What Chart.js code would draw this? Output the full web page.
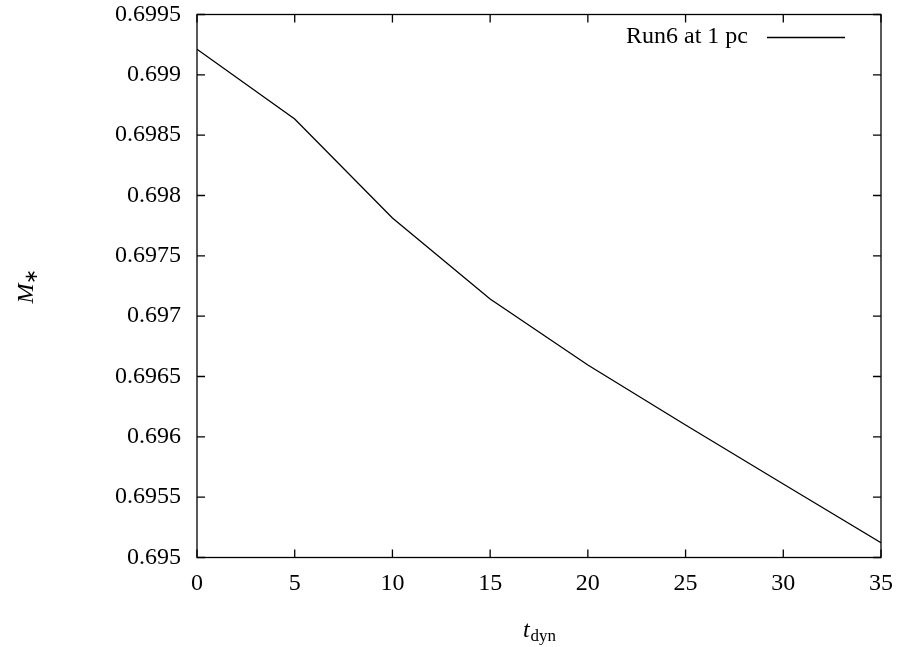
<!DOCTYPE html>
<html>
<head>
<meta charset="utf-8">
<script src="https://cdn.jsdelivr.net/npm/chart.js@4.4.0/dist/chart.umd.min.js"></script>
<style>
html, body { margin: 0; padding: 0; background: #fff; }
#wrap { width: 902px; height: 647px; }
</style>
</head>
<body>
<div id="wrap"><canvas id="graphMass"></canvas></div>
<script>
var tDyn = [0, 5, 10, 15, 20, 25, 30, 35];
var massStar = [0.699212, 0.698634, 0.697814, 0.697142, 0.696595, 0.696098, 0.695609, 0.695123];
var seriesLabel = 'Run6 at 1 pc';
var xTicks = [0, 5, 10, 15, 20, 25, 30, 35];
var yTicks = [0.695, 0.6955, 0.696, 0.6965, 0.697, 0.6975, 0.698, 0.6985, 0.699, 0.6995];

var fontFam = '"Liberation Serif", "Times New Roman", serif';

// frame, inward ticks (mirrored), legend and axis titles like gnuplot
var framePlugin = {
    id: 'frame',
    afterDraw: function(chart){
        let ctx = chart.ctx;
        let a = chart.chartArea;
        let xs = chart.scales.x;
        let ys = chart.scales.y;
        ctx.save();
        ctx.strokeStyle = '#000';
        ctx.lineWidth = 1.3;
        ctx.strokeRect(a.left, a.top, a.right - a.left, a.bottom - a.top);
        ctx.beginPath();
        xTicks.forEach(function(v){
            let px = xs.getPixelForValue(v);
            ctx.moveTo(px, a.bottom); ctx.lineTo(px, a.bottom - 8);
            ctx.moveTo(px, a.top); ctx.lineTo(px, a.top + 8);
        });
        yTicks.forEach(function(v){
            let py = ys.getPixelForValue(v);
            ctx.moveTo(a.left, py); ctx.lineTo(a.left + 8, py);
            ctx.moveTo(a.right, py); ctx.lineTo(a.right - 8, py);
        });
        ctx.stroke();

        // legend: text then line sample
        let ds = chart.data.datasets[0];
        ctx.fillStyle = '#000';
        ctx.font = '24px ' + fontFam;
        ctx.textAlign = 'right';
        ctx.textBaseline = 'middle';
        ctx.fillText(ds.label, 748, 37);
        ctx.beginPath();
        ctx.lineWidth = ds.borderWidth;
        ctx.moveTo(767, 37.5); ctx.lineTo(845, 37.5);
        ctx.stroke();

        // x title: t_dyn
        ctx.textAlign = 'left';
        ctx.textBaseline = 'alphabetic';
        let cx = (a.left + a.right) / 2;
        ctx.font = 'italic 24px ' + fontFam;
        let w1 = ctx.measureText('t').width;
        ctx.font = '17px ' + fontFam;
        let w2 = ctx.measureText('dyn').width;
        let x0 = cx - (w1 + w2) / 2;
        ctx.font = 'italic 24px ' + fontFam;
        ctx.fillText('t', x0, 637);
        ctx.font = '17px ' + fontFam;
        ctx.fillText('dyn', x0 + w1 + 1, 641);

        // y title: M_*
        let cy = (a.top + a.bottom) / 2;
        ctx.translate(33, cy);
        ctx.rotate(-Math.PI / 2);
        ctx.font = 'italic 24px ' + fontFam;
        let m1 = ctx.measureText('M').width;
        ctx.font = '18px ' + fontFam;
        let m2 = ctx.measureText('\u2217').width;
        let y0 = -(m1 + m2) / 2;
        ctx.font = 'italic 24px ' + fontFam;
        ctx.fillText('M', y0, 0);
        ctx.font = '18px ' + fontFam;
        ctx.fillText('\u2217', y0 + m1, 4);
        ctx.restore();
    }
};

var graphMass = new Chart('graphMass', {
    type: 'line',
    data: {
        datasets: [{
            label: seriesLabel,
            data: tDyn.map(function(t, i){ return { x: t, y: massStar[i] }; }),
            borderColor: '#000',
            borderWidth: 1.3,
            pointRadius: 0,
            tension: 0,
            fill: false
        }]
    },
    options: {
        responsive: true,
        maintainAspectRatio: false,
        animation: false,
        layout: { padding: { left: 0, right: 21, top: 14.5, bottom: 0 } },
        plugins: {
            legend: { display: false },
            tooltip: { enabled: false }
        },
        scales: {
            x: {
                type: 'linear',
                min: 0,
                max: 35,
                afterBuildTicks: function(scale){
                    scale.ticks = xTicks.map(function(v){ return { value: v }; });
                },
                afterFit: function(scale){
                    scale.height = 89.5;
                    scale.paddingLeft = 0;
                    scale.paddingRight = 0;
                },
                grid: { display: false, drawTicks: false },
                border: { display: false },
                ticks: {
                    color: '#000',
                    padding: 12,
                    maxRotation: 0,
                    font: { family: fontFam, size: 24 }
                }
            },
            y: {
                type: 'linear',
                min: 0.695,
                max: 0.6995,
                afterBuildTicks: function(scale){
                    scale.ticks = yTicks.map(function(v){ return { value: v }; });
                },
                afterFit: function(scale){
                    scale.width = 197;
                    scale.paddingTop = 0;
                    scale.paddingBottom = 0;
                },
                grid: { display: false, drawTicks: false },
                border: { display: false },
                ticks: {
                    color: '#000',
                    padding: 16,
                    font: { family: fontFam, size: 24 },
                    callback: function(v){ return String(parseFloat(v.toFixed(4))); }
                }
            }
        }
    },
    plugins: [framePlugin]
});
</script>
</body>
</html>
